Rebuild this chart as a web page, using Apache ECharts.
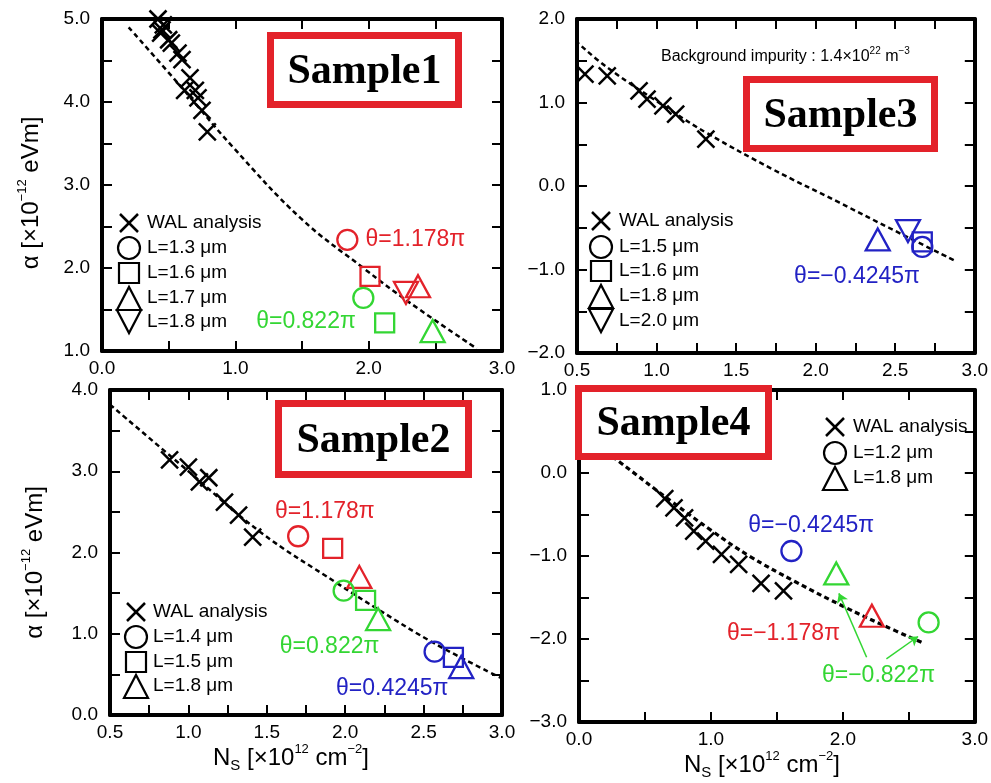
<!DOCTYPE html>
<html>
<head>
<meta charset="utf-8">
<script src="https://cdn.jsdelivr.net/npm/echarts@6/dist/echarts.min.js"></script>
<style>
html, body { margin: 0; padding: 0; background: #fff; }
#chart { width: 991px; height: 783px; }
</style>
</head>
<body>
<div id="chart"></div>
<script>
const RED = '#e3222a', GREEN = '#33d633', BLUE = '#2222c4';
const FONT = 'Liberation Sans';

// Sample1 (top left)
const s1Wal = [[0.42,5.0],[0.46,4.93],[0.45,4.87],[0.44,4.83],[0.50,4.75],[0.52,4.71],[0.57,4.59],[0.60,4.51],
               [0.66,4.29],[0.62,4.14],[0.70,4.14],[0.72,4.05],[0.75,3.90],[0.79,3.64]];
const s1Fit = [[0.2,4.9],[0.6,4.17],[0.98,3.46],[1.49,2.6],[1.96,2.0],[2.31,1.58],[2.81,1.03]];
const s1Red = [[1.84,2.34,'o'],[2.01,1.90,'s'],[2.28,1.70,'v'],[2.37,1.78,'^']];
const s1Green = [[1.96,1.64,'o'],[2.12,1.34,'s'],[2.48,1.24,'^']];

// Sample3 (top right)
const s3Wal = [[0.55,1.34],[0.69,1.32],[0.89,1.14],[0.94,1.04],[1.04,0.96],[1.12,0.86],[1.31,0.56]];
const s3Fit = [[0.49,1.74],[0.69,1.42],[1.11,0.88],[1.32,0.63],[1.73,0.2],[2.15,-0.2],[2.46,-0.5],[2.88,-0.9]];
const s3Blue = [[2.39,-0.64,'^'],[2.58,-0.54,'v'],[2.67,-0.67,'s'],[2.67,-0.73,'o']];

// Sample2 (bottom left)
const s2Wal = [[0.88,3.14],[1.0,3.05],[1.07,2.87],[1.13,2.92],[1.23,2.62],[1.32,2.46],[1.41,2.19]];
const s2Fit = [[0.5,3.82],[1.0,3.0],[1.46,2.25],[1.95,1.62],[2.21,1.3],[2.57,0.88],[3.0,0.45]];
const s2Red = [[1.70,2.20,'o'],[1.92,2.05,'s'],[2.09,1.70,'^']];
const s2Green = [[1.99,1.53,'o'],[2.13,1.41,'s'],[2.21,1.18,'^']];
const s2Blue = [[2.57,0.78,'o'],[2.69,0.71,'s'],[2.74,0.59,'^']];

// Sample4 (bottom right)
const s4Wal = [[0.65,-0.31],[0.72,-0.42],[0.80,-0.54],[0.87,-0.70],[0.96,-0.82],[1.08,-0.98],[1.21,-1.10],[1.38,-1.33],[1.55,-1.42]];
const s4Fit = [[0.2,0.26],[0.31,0.13],[0.69,-0.33],[1.01,-0.70],[1.29,-1.0],[1.64,-1.31],[2.02,-1.62],[2.3,-1.83],[2.61,-2.05]];
const s4Blue = [[1.61,-0.94,'o']];
const s4Green = [[1.95,-1.21,'^'],[2.65,-1.80,'o']];
const s4Red = [[2.22,-1.72,'^']];
const s4Arrows = [[[2.18,-2.22],[1.97,-1.45]],[[2.33,-2.24],[2.57,-1.97]]];

// text notes: x, y, text, colour
const s1Notes = [[2.35,2.34,'θ=1.178π',RED],[1.53,1.35,'θ=0.822π',GREEN]];
const s3Notes = [[2.26,-1.09,'θ=−0.4245π',BLUE]];
const s2Notes = [[1.87,2.50,'θ=1.178π',RED],[1.90,0.84,'θ=0.822π',GREEN],[2.30,0.33,'θ=0.4245π',BLUE]];
const s4Notes = [[1.76,-0.64,'θ=−0.4245π',BLUE],[1.55,-1.93,'θ=−1.178π',RED],[2.27,-2.44,'θ=−0.822π',GREEN]];

const SYM = {o: 'circle', s: 'rect', '^': 'triangle', v: 'triangle'};
const SIZE = {o: 20, s: 19, '^': [24, 22], v: [24, 22]};
const CROSS = 'path://M0,0L10,10M10,0L0,10';

const fmt = v => (v < 0 ? '−' : '') + Math.abs(v).toFixed(1);

function axes(gi, xr, yr, xName, yName) {
  const base = {
    type: 'value', gridIndex: gi,
    axisLine: { onZero: false, lineStyle: { color: '#000', width: 4 } },
    axisTick: { show: true, inside: true, length: 10, lineStyle: { color: '#000', width: 2 } },
    splitLine: { show: false }
  };
  const lab = step => ({
    color: '#000', fontSize: 19, fontFamily: FONT, margin: 8,
    formatter: v => Math.abs(v / step - Math.round(v / step)) < 1e-6 ? fmt(v) : ''
  });
  const x = [
    Object.assign({}, base, { position: 'bottom', min: xr[0], max: xr[1], interval: xr[2], axisLabel: lab(xr[3]) }),
    Object.assign({}, base, { position: 'top', min: xr[0], max: xr[1], interval: xr[2], axisLabel: { show: false } })
  ];
  const y = [
    Object.assign({}, base, { position: 'left', min: yr[0], max: yr[1], interval: yr[2], axisLabel: Object.assign(lab(yr[3]), { margin: 12 }) }),
    Object.assign({}, base, { position: 'right', min: yr[0], max: yr[1], interval: yr[2], axisLabel: { show: false } })
  ];
  const rich = {
    a: { fontSize: 24, fontFamily: FONT, color: '#000', lineHeight: 30 },
    s: { fontSize: 13, fontFamily: FONT, color: '#000', lineHeight: 14, verticalAlign: 'top' },
    b: { fontSize: 15, fontFamily: FONT, color: '#000', lineHeight: 14, verticalAlign: 'bottom' }
  };
  if (xName) {
    Object.assign(x[0], {
      name: '{a|N}{b|S}{a| [×10}{s|12}{a| cm}{s|−2}{a|]}', nameLocation: 'middle', nameGap: xName,
      nameTextStyle: { rich: rich, padding: [0, 30, 0, 0] }
    });
  }
  if (yName) {
    Object.assign(y[0], {
      name: '{a|α [×10}{s|−12}{a| eVm]}', nameLocation: 'middle', nameRotate: 90, nameGap: yName[0],
      nameTextStyle: { rich: rich, padding: [0, yName[1], 0, 0] }
    });
  }
  return { x, y };
}

const A = [
  axes(0, [0, 3, 0.5, 1], [1, 5, 0.5, 1], null, [56, 16]),
  axes(1, [0.5, 3, 0.25, 0.5], [-2, 2, 0.5, 1], null, null),
  axes(2, [0.5, 3, 0.25, 0.5], [0, 4, 0.5, 1], 28, [60, 20]),
  axes(3, [0, 3, 0.5, 1], [-3, 1, 0.5, 1], 25, null)
];

function walSeries(data, gi) {
  return { type: 'scatter', xAxisIndex: gi * 2, yAxisIndex: gi * 2, data: data, symbol: CROSS, symbolSize: 17,
    itemStyle: { color: 'rgba(0,0,0,0)', borderColor: '#000', borderWidth: 2.5, opacity: 1 }, silent: true, z: 3 };
}
function fitSeries(data, gi, w) {
  return { type: 'line', xAxisIndex: gi * 2, yAxisIndex: gi * 2, data: data, smooth: 0.4, showSymbol: false,
    lineStyle: { color: '#000', width: w || 2.5, type: [5, 3.5], opacity: 1 }, silent: true, z: 2 };
}
function markSeries(data, color, gi) {
  return { type: 'scatter', xAxisIndex: gi * 2, yAxisIndex: gi * 2, silent: true, z: 4,
    data: data.map(d => ({ value: [d[0], d[1]], symbol: SYM[d[2]], symbolSize: SIZE[d[2]], symbolRotate: d[2] === 'v' ? 180 : 0 })),
    itemStyle: { color: 'rgba(0,0,0,0)', borderColor: color, borderWidth: 2.3, opacity: 1 } };
}
function noteSeries(data, gi) {
  return { type: 'scatter', xAxisIndex: gi * 2, yAxisIndex: gi * 2, symbolSize: 0, silent: true, z: 5,
    itemStyle: { opacity: 1 },
    data: data.map(d => ({ value: [d[0], d[1]],
      label: { show: true, position: 'inside', formatter: d[2], color: d[3], fontSize: 23, fontFamily: FONT } })) };
}

// legend drawn with graphic shapes
function legendBlock(sx, tx, ys, items) {
  const els = [];
  const st = { fill: 'none', stroke: '#000', lineWidth: 2.2 };
  items.forEach((it, i) => {
    const y = ys[i];
    if (it[0] === 'x') {
      els.push({ type: 'line', shape: { x1: sx - 9, y1: y - 9, x2: sx + 9, y2: y + 9 }, style: { stroke: '#000', lineWidth: 2.5 } });
      els.push({ type: 'line', shape: { x1: sx + 9, y1: y - 9, x2: sx - 9, y2: y + 9 }, style: { stroke: '#000', lineWidth: 2.5 } });
    } else if (it[0] === 'o') {
      els.push({ type: 'circle', shape: { cx: sx, cy: y, r: 11 }, style: st });
    } else if (it[0] === 's') {
      els.push({ type: 'rect', shape: { x: sx - 10, y: y - 10, width: 20, height: 20 }, style: st });
    } else if (it[0] === '^') {
      els.push({ type: 'polygon', shape: { points: [[sx - 12, y + 12], [sx + 12, y + 12], [sx, y - 11]] }, style: st });
    } else if (it[0] === 'v') {
      els.push({ type: 'polygon', shape: { points: [[sx - 12, y - 12], [sx + 12, y - 12], [sx, y + 11]] }, style: st });
    }
    els.push({ type: 'text', x: tx, y: y, style: { text: it[1], fontSize: 19, fontFamily: FONT, fill: '#000', verticalAlign: 'middle' } });
  });
  return els;
}

function sampleBox(x, y, w, h, label) {
  return [
    { type: 'rect', z: 100, shape: { x: x + 3.5, y: y + 3.5, width: w - 7, height: h - 7 }, style: { fill: '#fff', stroke: RED, lineWidth: 7 } },
    { type: 'text', z: 101, x: x + w / 2, y: y + h / 2 + 2,
      style: { text: label, fontFamily: 'Liberation Serif', fontWeight: 'bold', fontSize: 42, fill: '#000', align: 'center', verticalAlign: 'middle' } }
  ];
}

const graphics = [].concat(
  legendBlock(129, 147, [223, 248, 273, 298, 322],
    [['x', 'WAL analysis'], ['o', 'L=1.3 μm'], ['s', 'L=1.6 μm'], ['^', 'L=1.7 μm'], ['v', 'L=1.8 μm']]),
  legendBlock(601, 619, [221, 247, 271, 296, 321],
    [['x', 'WAL analysis'], ['o', 'L=1.5 μm'], ['s', 'L=1.6 μm'], ['^', 'L=1.8 μm'], ['v', 'L=2.0 μm']]),
  legendBlock(136, 153, [612, 637, 662, 686],
    [['x', 'WAL analysis'], ['o', 'L=1.4 μm'], ['s', 'L=1.5 μm'], ['^', 'L=1.8 μm']]),
  legendBlock(835, 853, [427, 453, 478],
    [['x', 'WAL analysis'], ['o', 'L=1.2 μm'], ['^', 'L=1.8 μm']]),
  sampleBox(267, 32, 195, 76, 'Sample1'),
  sampleBox(743, 76, 195, 76, 'Sample3'),
  sampleBox(275, 400, 197, 78, 'Sample2'),
  sampleBox(575, 385, 197, 75, 'Sample4')
);

const option = {
  animation: false,
  backgroundColor: '#fff',
  grid: [
    { left: 102, top: 19, width: 400, height: 332 },
    { left: 577, top: 19, width: 401, height: 334 },
    { left: 110, top: 390, width: 392, height: 325 },
    { left: 579, top: 390, width: 398, height: 332 }
  ],
  xAxis: [].concat(A[0].x, A[1].x, A[2].x, A[3].x),
  yAxis: [].concat(A[0].y, A[1].y, A[2].y, A[3].y),
  graphic: graphics,
  series: [
    fitSeries(s1Fit, 0), walSeries(s1Wal, 0), markSeries(s1Red, RED, 0), markSeries(s1Green, GREEN, 0), noteSeries(s1Notes, 0),
    fitSeries(s3Fit, 1), walSeries(s3Wal, 1), markSeries(s3Blue, BLUE, 1), noteSeries(s3Notes, 1),
    { type: 'scatter', xAxisIndex: 2, yAxisIndex: 2, symbolSize: 0, silent: true, itemStyle: { opacity: 1 },
      data: [{ value: [1.81, 1.55],
        label: { show: true, position: 'inside', formatter: '{a|Background impurity : 1.4×10}{s|22}{a| m}{s|−3}',
          rich: { a: { fontSize: 16, fontFamily: FONT, color: '#000', lineHeight: 20 },
                  s: { fontSize: 10, fontFamily: FONT, color: '#000', lineHeight: 10, verticalAlign: 'top' } } } }] },
    fitSeries(s2Fit, 2), walSeries(s2Wal, 2), markSeries(s2Red, RED, 2), markSeries(s2Green, GREEN, 2), markSeries(s2Blue, BLUE, 2), noteSeries(s2Notes, 2),
    fitSeries(s4Fit, 3, 3.2), walSeries(s4Wal, 3), markSeries(s4Blue, BLUE, 3), markSeries(s4Green, GREEN, 3), markSeries(s4Red, RED, 3), noteSeries(s4Notes, 3),
    { type: 'lines', coordinateSystem: 'cartesian2d', xAxisIndex: 6, yAxisIndex: 6, silent: true, z: 5,
      symbol: ['none', 'arrow'], symbolSize: 9,
      lineStyle: { color: GREEN, width: 1.5, opacity: 1 },
      data: s4Arrows.map(c => ({ coords: c })) }
  ]
};

const myChart = echarts.init(document.getElementById('chart'));
myChart.setOption(option);
</script>
</body>
</html>
